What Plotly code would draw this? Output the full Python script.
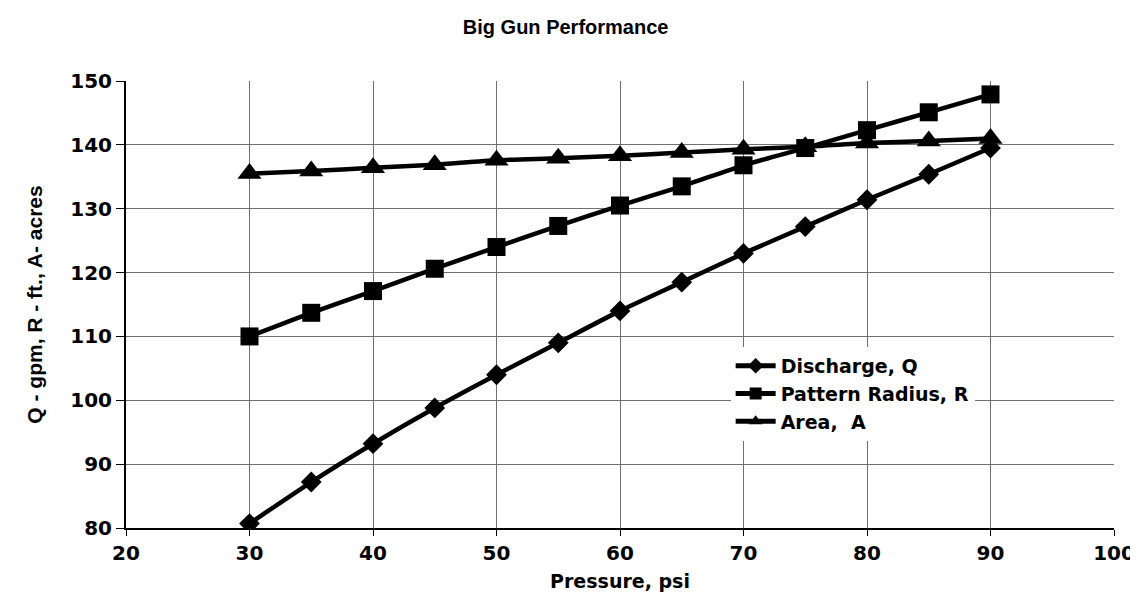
import plotly.graph_objects as go

pressure = [30, 35, 40, 45, 50, 55, 60, 65, 70, 75, 80, 85, 90]
discharge_q = [80.7, 87.2, 93.2, 98.8, 104.0, 109.0, 114.0, 118.5, 123.0, 127.2, 131.4, 135.4, 139.5]
radius_r = [110.0, 113.7, 117.1, 120.6, 124.0, 127.3, 130.5, 133.5, 136.8, 139.5, 142.3, 145.1, 147.9]
area_a = [135.5, 135.9, 136.4, 136.9, 137.6, 137.9, 138.3, 138.8, 139.3, 139.7, 140.3, 140.6, 141.0]

series_names = ["Discharge, Q", "Pattern Radius, R", "Area,  A"]
x_ticks = [20, 30, 40, 50, 60, 70, 80, 90, 100]
y_ticks = [80, 90, 100, 110, 120, 130, 140, 150]

WIDE = "DejaVu Sans, Verdana, sans-serif"
ARIAL = "Liberation Sans, Arial, sans-serif"

fig = go.Figure()
styles = [("diamond", 16), ("square", 18), ("triangle-up", 21)]
for name, ys, (sym, sz) in zip(series_names, [discharge_q, radius_r, area_a], styles):
    fig.add_trace(go.Scatter(
        x=pressure, y=ys, name=f"<b>{name}</b>", mode="lines+markers",
        line=dict(color="black", width=4.5, shape="spline", smoothing=0.6),
        marker=dict(symbol=sym, size=sz, color="black"),
    ))

fig.update_layout(
    width=1138, height=606,
    paper_bgcolor="white", plot_bgcolor="white",
    margin=dict(l=118, r=32, t=73, b=86),
    font=dict(family=WIDE, color="black", size=19),
    title=dict(text="<b>Big Gun Performance</b>", x=0.49, xanchor="center",
               y=1 - 19 / 606, yanchor="middle", font=dict(size=20, family=ARIAL)),
    showlegend=True,
    legend=dict(x=0.612, y=0.405, xanchor="left", yanchor="top",
                bgcolor="white", borderwidth=0, tracegroupgap=0,
                font=dict(size=19, family=WIDE), itemwidth=40,
                itemsizing="constant"),
)
fig.update_xaxes(
    range=[20, 100], tickvals=x_ticks, ticktext=[f"<b>{v}</b>" for v in x_ticks],
    showgrid=True, gridcolor="#707070", gridwidth=1,
    showline=True, linecolor="black", linewidth=2,
    ticks="outside", ticklen=6, tickcolor="black",
    tickfont=dict(size=20, family=WIDE),
    title=dict(text="<b>Pressure, psi</b>", font=dict(size=19, family=WIDE), standoff=11),
    zeroline=False,
)
fig.update_yaxes(
    range=[80, 150], tickvals=y_ticks, ticktext=[f"<b>{v}</b>" for v in y_ticks],
    showgrid=True, gridcolor="#707070", gridwidth=1,
    showline=True, linecolor="black", linewidth=2,
    ticks="outside", ticklen=8, tickcolor="black",
    tickfont=dict(size=20, family=WIDE),
    title=dict(text="<b>Q - gpm, R - ft., A- acres</b>", font=dict(size=21, family=ARIAL), standoff=22),
    zeroline=False,
)

fig.write_html("out.html")
